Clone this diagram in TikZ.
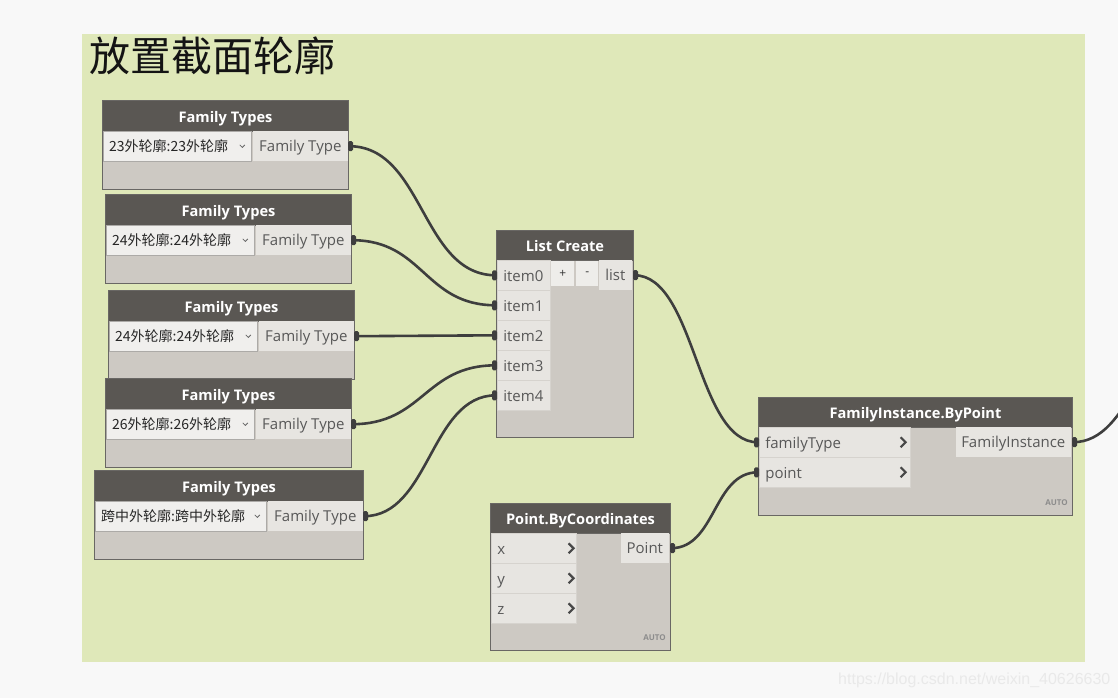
\documentclass[tikz,border=0pt]{standalone}
\usepackage{fontspec}
\setmainfont{Open Sans}
\newfontfamily\cjk{Noto Sans CJK SC}
\newfontfamily\wmfont{Liberation Sans}
\usetikzlibrary{calc}
\definecolor{pagebg}{RGB}{248,248,248}
\definecolor{groupbg}{RGB}{223,232,185}
\definecolor{hdrc}{RGB}{90,87,83}
\definecolor{bodyc}{RGB}{205,201,195}
\definecolor{portc}{RGB}{231,229,225}
\definecolor{portline}{RGB}{214,211,206}
\definecolor{ddc}{RGB}{240,239,237}
\definecolor{ddline}{RGB}{172,170,167}
\definecolor{edgec}{RGB}{105,103,100}
\definecolor{wirec}{RGB}{62,62,62}
\definecolor{txtc}{RGB}{88,88,88}
\definecolor{chevc}{RGB}{72,72,72}
\definecolor{autoc}{RGB}{140,140,140}
\definecolor{wmc}{RGB}{233,233,233}
\tikzset{
  x=1pt, y=-1pt,
  nodebody/.style={draw=edgec, line width=1pt, fill=bodyc, anchor=north west, inner sep=0pt},
  hdr/.style={draw=edgec, line width=1pt, fill=hdrc, anchor=north west, inner sep=0pt, text=white,
    font=\bfseries\fontsize{14.6}{16}\selectfont, minimum height=30, text height=14, text depth=2},
  ddbox/.style={fill=ddc, draw=ddline, line width=0.8pt, anchor=north west, inner sep=0pt, minimum height=30},
  ddtext/.style={anchor=west, inner sep=0pt, text=black!85, font=\cjk\fontsize{14}{16}\selectfont},
  ddchev/.style={draw=black!60, line width=0.8pt},
  portbox/.style={fill=portc, inner sep=0pt, minimum height=30, text=txtc, font=\fontsize{15}{17}\selectfont,
    text height=14, text depth=2.5},
  inbox/.style={fill=portc, draw=portline, line width=0.6pt, anchor=north west, inner xsep=6pt, inner ysep=0pt,
    minimum height=30, align=left, text=txtc, font=\fontsize{15}{17}\selectfont, text height=14, text depth=2.5},
  pmbox/.style={fill=portc!70!white, anchor=north west, inner sep=0pt, minimum width=23, minimum height=25,
    text=black!80, font=\fontsize{12}{14}\selectfont},
  chev/.style={draw=chevc, line width=2.2pt},
  autolbl/.style={anchor=east, inner sep=0pt, text=autoc, font=\bfseries\fontsize{8}{9}\selectfont},
  wire/.style={draw=wirec, line width=2.6pt},
  outmark/.style={fill=wirec, rounded corners=1.5pt},
}
\newcommand\famtypes[6]{%
  \node[nodebody, minimum width=#4, minimum height=89] (#1) at (#2,#3) {};
  \node[hdr, minimum width=#4, minimum height=31] (#1h) at (#1.north west) {Family Types};
  \node[ddbox, minimum width=#5] (#1dd) at ([shift={(1,31)}]#1.north west) {};
  \node[ddtext] at ([shift={(6,0)}]#1dd.west) {#6};
  \draw[ddchev] ([shift={(-12,-1.5)}]#1dd.east) -- ([shift={(-9.5,1)}]#1dd.east) -- ([shift={(-7,-1.5)}]#1dd.east);
  \node[portbox, anchor=north east, minimum width={#4-#5-3}] (#1o) at ([shift={(-1,31)}]#1.north east) {Family Type};
  \coordinate (#1-out) at (#1.east |- #1o.east);
}
\begin{document}
\begin{tikzpicture}
\useasboundingbox (0,0) rectangle (1118,698);
\fill[pagebg] (0,0) rectangle (1118,698);
\node[fill=groupbg, anchor=north west, inner sep=0pt, minimum width=1003, minimum height=628] (grp) at (82,34) {};
\node[anchor=base west, inner sep=0pt, text=black!92, font=\cjk\fontsize{41}{45}\selectfont] (title) at (89,72) {放置截面轮廓};

% Family Types nodes
\famtypes{ft1}{102}{100}{246}{148}{23外轮廓:23外轮廓}
\famtypes{ft2}{105}{194}{246}{148}{24外轮廓:24外轮廓}
\famtypes{ft3}{108}{290}{246}{148}{24外轮廓:24外轮廓}
\famtypes{ft4}{105}{378}{246}{148}{26外轮廓:26外轮廓}
\famtypes{ft5}{94}{470}{269}{171}{跨中外轮廓:跨中外轮廓}

% List Create
\node[nodebody, minimum width=137, minimum height=207] (lc) at (496,230) {};
\node[hdr, minimum width=137] (lch) at (lc.north west) {List Create};
\foreach \i/\yy in {0/260,1/290,2/320,3/350,4/380}{
  \node[inbox, text width=41] (lci\i) at (497,\yy) {item\i};
  \coordinate (lc-i\i) at (lc.west |- lci\i.west);
}
\node[pmbox] (lcplus) at (551,261) {+};
\node[pmbox, minimum width=22] (lcminus) at (576,261) {-};
\node[portbox, anchor=north east, minimum width=33] (lco) at (632,260) {list};
\coordinate (lc-out) at (lc.east |- lco.east);

% FamilyInstance.ByPoint
\node[nodebody, minimum width=314, minimum height=118] (fi) at (758,397) {};
\node[hdr, minimum width=314] (fih) at (fi.north west) {FamilyInstance.ByPoint};
\node[inbox, text width=139] (fii0) at (759,427) {familyType};
\node[inbox, text width=139] (fii1) at (759,457) {point};
\foreach \i in {0,1}{
  \draw[chev] ([shift={(-10,-5)}]fii\i.east) -- ([shift={(-5,0)}]fii\i.east) -- ([shift={(-10,5)}]fii\i.east);
  \coordinate (fi-i\i) at (fi.west |- fii\i.west);
}
\node[portbox, anchor=north east, minimum width=115] (fio) at (1071,427) {FamilyInstance};
\coordinate (fi-out) at (fi.east |- fio.east);
\node[autolbl] (fiauto) at ([shift={(-5,-13)}]fi.south east) {AUTO};
\coordinate (fi-end) at (1200,330);

% Point.ByCoordinates
\node[nodebody, minimum width=180, minimum height=147] (pc) at (490,503) {};
\node[hdr, minimum width=180] (pch) at (pc.north west) {Point.ByCoordinates};
\foreach \i/\lab/\yy in {0/x/533,1/y/563,2/z/593}{
  \node[inbox, text width=73] (pci\i) at (491,\yy) {\lab};
  \draw[chev] ([shift={(-8,-5)}]pci\i.east) -- ([shift={(-3,0)}]pci\i.east) -- ([shift={(-8,5)}]pci\i.east);
}
\node[portbox, anchor=north east, minimum width=48] (pco) at (669,533) {Point};
\coordinate (pc-out) at (pc.east |- pco.east);
\node[autolbl] (pcauto) at ([shift={(-5,-13)}]pc.south east) {AUTO};

% wires
\draw[wire] (ft1-out) .. controls +(75,0) and +(-75,0) .. (lc-i0);
\draw[wire] (ft2-out) .. controls +(72,0) and +(-72,0) .. (lc-i1);
\draw[wire] (ft3-out) .. controls +(70,0) and +(-70,0) .. (lc-i2);
\draw[wire] (ft4-out) .. controls +(72,0) and +(-72,0) .. (lc-i3);
\draw[wire] (ft5-out) .. controls +(66,0) and +(-66,0) .. (lc-i4);
\draw[wire] (lc-out) .. controls +(62,0) and +(-62,0) .. (fi-i0);
\draw[wire] (pc-out) .. controls +(45,0) and +(-45,0) .. (fi-i1);
\draw[wire] (fi-out) .. controls +(60,0) and +(-60,0) .. (fi-end);

% port markers
\foreach \p in {ft1-out,ft2-out,ft3-out,ft4-out,ft5-out,lc-out,pc-out,fi-out}{
  \fill[outmark] (\p) +(-1,-5) rectangle +(4,5);
}
\foreach \p in {lc-i0,lc-i1,lc-i2,lc-i3,lc-i4,fi-i0,fi-i1}{
  \fill[outmark] (\p) +(-4,-5) rectangle +(1,5);
}

% watermark
\node[anchor=base west, inner sep=0pt, text=wmc, font=\wmfont\fontsize{16}{18}\selectfont] (wm) at (838,684) {https://blog.csdn.net/weixin\_40626630};
\end{tikzpicture}
\end{document}
